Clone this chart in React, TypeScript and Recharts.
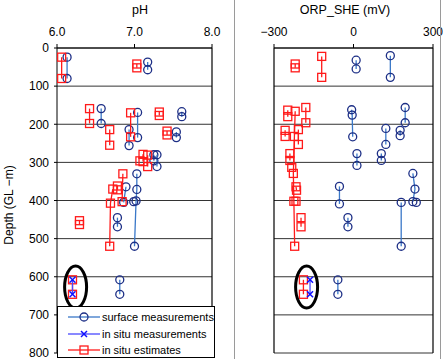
import { ScatterChart, Scatter, XAxis, YAxis, CartesianGrid, ReferenceLine, ReferenceDot } from 'recharts'

// each group is one sample pair: [value, depth (m)]
type Group = [number, number][]

const depthTicks = [0, 100, 200, 300, 400, 500, 600, 700, 800]
const phTicks = [6, 7, 8]
const orpTicks = [-300, 0, 300]

const phSurface: Group[] = [
  [[6.13, 24], [6.13, 80]],
  [[7.17, 37], [7.17, 57]],
  [[6.57, 159], [6.57, 198]],
  [[7.04, 169], [7.04, 235]],
  [[6.93, 214], [6.93, 256]],
  [[7.61, 167], [7.61, 180]],
  [[7.54, 220], [7.54, 235]],
  [[7.25, 280], [7.25, 296]],
  [[7.29, 280], [7.29, 311]],
  [[7.03, 330], [7.03, 371], [7.02, 401], [7.0, 520]],
  [[6.99, 403]],
  [[6.89, 364], [6.86, 405]],
  [[6.78, 445], [6.78, 469]],
  [[6.81, 608], [6.81, 646]],
]

const phEstimates: Group[] = [
  [[6.06, 24], [6.06, 80]],
  [[7.03, 42], [7.03, 52]],
  [[6.42, 159], [6.42, 198]],
  [[6.68, 214], [6.68, 255]],
  [[6.95, 170], [6.95, 233]],
  [[7.32, 168], [7.32, 177]],
  [[7.42, 218], [7.42, 228]],
  [[7.11, 279], [7.11, 298]],
  [[7.17, 281], [7.17, 311]],
  [[7.07, 296]],
  [[6.85, 330], [6.84, 403]],
  [[6.78, 362], [6.78, 372]],
  [[6.72, 370], [6.69, 407], [6.68, 520]],
  [[6.29, 453], [6.29, 463]],
  [[6.2, 608], [6.2, 646]],
]

const phInSitu: Group[] = [
  [[6.2, 608], [6.2, 646]],
]

const orpSurface: Group[] = [
  [[10, 32], [10, 55]],
  [[139, 20], [139, 77]],
  [[-7, 162], [-5, 176], [-3, 233]],
  [[195, 156], [195, 196]],
  [[122, 211], [122, 253]],
  [[176, 216], [176, 230]],
  [[13, 277], [13, 308]],
  [[105, 277], [105, 295]],
  [[224, 329], [232, 370], [224, 403]],
  [[237, 405]],
  [[-53, 363], [-53, 409]],
  [[-21, 445], [-21, 469]],
  [[180, 405], [180, 520]],
  [[-59, 608], [-59, 646]],
]

const orpEstimates: Group[] = [
  [[-220, 42], [-220, 52]],
  [[-120, 22], [-120, 77]],
  [[-248, 163], [-248, 180]],
  [[-180, 156], [-180, 196]],
  [[-258, 216], [-258, 232]],
  [[-208, 214], [-208, 253]],
  [[-220, 166], [-223, 232], [-227, 329], [-225, 402], [-222, 520]],
  [[-240, 277], [-240, 295]],
  [[-233, 313]],
  [[-217, 364], [-215, 373]],
  [[-217, 402]],
  [[-198, 445], [-198, 469]],
  [[-189, 608], [-189, 646]],
]

const orpInSitu: Group[] = [
  [[-164, 608], [-164, 646]],
]

const toPts = (g: Group) => g.map(([v, d]) => ({ v, d }))

const FONT = '"Liberation Sans", Arial, sans-serif'
const NAVY = '#1d2f86'
const STEEL = '#3a78c8'
const RED = '#ff1a1a'
const BLUE = '#1010ff'

const circleShape = (p: any) => (
  <circle cx={p.cx} cy={p.cy} r={4} fill="none" stroke={NAVY} strokeWidth={1.3} />
)
const squareShape = (p: any) => (
  <rect x={p.cx - 4} y={p.cy - 4} width={8} height={8} fill="none" stroke={RED} strokeWidth={1.3} />
)
const crossShape = (p: any) => (
  <g stroke={BLUE} strokeWidth={1.5}>
    <line x1={p.cx - 3} y1={p.cy - 3} x2={p.cx + 3} y2={p.cy + 3} />
    <line x1={p.cx - 3} y1={p.cy + 3} x2={p.cx + 3} y2={p.cy - 3} />
  </g>
)
const ellipseShape = (p: any) => (
  <ellipse cx={p.cx} cy={p.cy} rx={11} ry={21} fill="none" stroke="#000" strokeWidth={3} />
)

interface PanelProps {
  width: number
  domain: [number, number]
  ticks: number[]
  fmt: (v: number) => string
  surface: Group[]
  estimates: Group[]
  inSitu: Group[]
  ring: [number, number]
  showDepth: boolean
  margin: { top: number; right: number; bottom: number; left: number }
}

function Panel(props: PanelProps) {
  const { width, domain, ticks, fmt, surface, estimates, inSitu, ring, showDepth, margin } = props
  return (
    <ScatterChart width={width} height={359} margin={margin}>
      <CartesianGrid vertical={false} stroke="#333" strokeWidth={1} />
      <XAxis
        type="number"
        dataKey="v"
        orientation="top"
        domain={domain}
        ticks={ticks}
        interval={0}
        height={18}
        tickFormatter={fmt}
        tick={{ fill: '#000', fontSize: 12, fontFamily: FONT }}
        tickSize={4}
        tickMargin={8}
        stroke="#000"
        allowDataOverflow
      />
      <YAxis
        type="number"
        dataKey="d"
        domain={[0, 800]}
        ticks={depthTicks}
        interval={0}
        reversed
        width={57}
        hide={!showDepth}
        tick={{ fill: '#000', fontSize: 12, fontFamily: FONT }}
        tickSize={3}
        tickMargin={5}
        stroke="#000"
        allowDataOverflow
      />
      {!showDepth && <ReferenceLine x={domain[0]} stroke="#000" strokeWidth={1.2} />}
      <ReferenceLine x={domain[1]} stroke="#000" strokeWidth={1.2} />
      {surface.map((g, i) => (
        <Scatter
          key={'s' + i}
          data={toPts(g)}
          shape={circleShape}
          line={{ stroke: STEEL, strokeWidth: 1.3 }}
          legendType="none"
          isAnimationActive={false}
        />
      ))}
      {estimates.map((g, i) => (
        <Scatter
          key={'e' + i}
          data={toPts(g)}
          shape={squareShape}
          line={{ stroke: RED, strokeWidth: 1.3 }}
          legendType="none"
          isAnimationActive={false}
        />
      ))}
      {inSitu.map((g, i) => (
        <Scatter
          key={'m' + i}
          data={toPts(g)}
          shape={crossShape}
          line={{ stroke: '#4a4aff', strokeWidth: 1.3 }}
          legendType="none"
          isAnimationActive={false}
        />
      ))}
      <ReferenceDot x={ring[0]} y={ring[1]} shape={ellipseShape} ifOverflow="visible" />
    </ScatterChart>
  )
}

function LegendBox() {
  const rows = [
    { label: 'surface measurements', line: STEEL, icon: 'circle' },
    { label: 'in situ measurements', line: '#4a4aff', icon: 'cross' },
    { label: 'in situ estimates', line: RED, icon: 'square' },
  ]
  return (
    <div
      style={{
        position: 'absolute',
        left: 57,
        top: 306,
        width: 156,
        height: 50,
        border: '1px solid #000',
        background: '#fff',
        fontFamily: FONT,
        fontSize: 11,
      }}
    >
      {rows.map((r, i) => (
        <div key={r.label} style={{ position: 'absolute', left: 10, top: 3 + i * 16.5, height: 14, display: 'flex', alignItems: 'center' }}>
          <svg width={32} height={12}>
            <line x1={0} y1={6} x2={32} y2={6} stroke={r.line} strokeWidth={1.3} />
            {r.icon === 'circle' && circleShape({ cx: 16, cy: 6 })}
            {r.icon === 'square' && squareShape({ cx: 16, cy: 6 })}
            {r.icon === 'cross' && crossShape({ cx: 16, cy: 6 })}
          </svg>
          <span style={{ marginLeft: 2, color: '#000', whiteSpace: 'nowrap' }}>{r.label}</span>
        </div>
      ))}
    </div>
  )
}

export default function App() {
  return (
    <div style={{ position: 'absolute', left: 0, top: 0, width: 443, height: 359, background: '#fff', overflow: 'hidden', fontFamily: FONT }}>
      <div style={{ position: 'absolute', left: 0, top: 0 }}>
        <Panel
          width={235}
          domain={[6, 8]}
          ticks={phTicks}
          fmt={(v) => v.toFixed(1)}
          surface={phSurface}
          estimates={phEstimates}
          inSitu={phInSitu}
          ring={[6.24, 627]}
          showDepth
          margin={{ top: 30, right: 23, bottom: 6, left: 0 }}
        />
      </div>
      <div style={{ position: 'absolute', left: 235, top: 0 }}>
        <Panel
          width={208}
          domain={[-300, 300]}
          ticks={orpTicks}
          fmt={(v) => (v < 0 ? '−' + Math.abs(v) : String(v))}
          surface={orpSurface}
          estimates={orpEstimates}
          inSitu={orpInSitu}
          ring={[-177, 627]}
          showDepth={false}
          margin={{ top: 30, right: 10, bottom: 6, left: 39 }}
        />
      </div>
      <div style={{ position: 'absolute', left: 140, top: 10, transform: 'translate(-50%, -50%)', fontSize: 12.5, whiteSpace: 'nowrap' }}>pH</div>
      <div style={{ position: 'absolute', left: 345, top: 10, transform: 'translate(-50%, -50%)', fontSize: 12.5, whiteSpace: 'nowrap' }}>ORP_SHE (mV)</div>
      <div style={{ position: 'absolute', left: 9, top: 205, transform: 'translate(-50%, -50%) rotate(-90deg)', fontSize: 12, whiteSpace: 'nowrap' }}>Depth (GL −m)</div>
      <div style={{ position: 'absolute', left: 234, top: 0, width: 1, height: 359, background: '#9a9a9a' }} />
      <div style={{ position: 'absolute', left: 440, top: 0, width: 1, height: 359, background: '#9a9a9a' }} />
      <LegendBox />
    </div>
  )
}
